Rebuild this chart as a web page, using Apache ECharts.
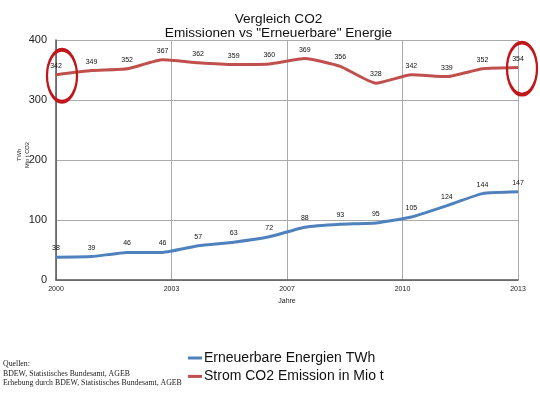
<!DOCTYPE html>
<html>
<head>
<meta charset="utf-8">
<script src="https://cdn.jsdelivr.net/npm/echarts@6/dist/echarts.min.js"></script>
<style>
html,body{margin:0;padding:0;background:#fff;}
#c{width:540px;height:396px;}
</style>
</head>
<body>
<div id="c"></div>
<script>
const years = [2000,2001,2002,2003,2004,2005,2006,2007,2008,2009,2010,2011,2012,2013];
const erneuerbare = [38,39,46,46,57,63,72,88,93,95,105,124,144,147];
const co2 = [342,349,352,367,362,359,360,369,356,328,342,339,352,354];
const baseYear = 2000;
const yTicks = [0,100,200,300,400];
const seriesNames = ['Erneuerbare Energien TWh','Strom CO2 Emission in Mio t'];
const titleLines = ['Vergleich CO2','Emissionen vs "Erneuerbare" Energie'];
const yNameLines = ['TWh','Mio t CO2'];
const sourceLines = ['Quellen:','BDEW, Statistisches Bundesamt, AGEB','Erhebung durch BDEW, Statistisches Bundesamt, AGEB'];

const FONT = '"Liberation Sans", Arial, Helvetica, sans-serif';
const lastIdx = years.length - 1;
const toPts = arr => arr.map((v,i)=>[years[i]-baseYear, v]);

const chart = echarts.init(document.getElementById('c'), null, {renderer:'canvas'});
chart.setOption({
  backgroundColor:'#fff',
  animation:false,
  textStyle:{fontFamily:FONT},
  title:{
    text: titleLines.join('\n'),
    left: 273.5, top: 6.5, textAlign:'center',
    textStyle:{fontFamily:FONT, fontSize:13.6, fontWeight:'normal', color:'#111', lineHeight:14.5}
  },
  grid:{left:56, right:22, top:40, bottom:116, containLabel:false, outerBoundsMode:'none'},
  xAxis:{
    type:'value', min:0, max:years[lastIdx]-baseYear, interval:(years[lastIdx]-baseYear)/4,
    name:'Jahre', nameLocation:'middle', nameGap:18,
    nameTextStyle:{fontFamily:FONT, fontSize:7, color:'#222'},
    axisLine:{show:true, lineStyle:{color:'#555', width:1.5}},
    axisTick:{show:false},
    axisLabel:{fontFamily:FONT, fontSize:7, color:'#222', margin:6,
      formatter: v => String(Math.round(baseYear + v))},
    splitLine:{show:true, lineStyle:{color:'#aaa', width:1}}
  },
  yAxis:{
    type:'value', min:yTicks[0], max:yTicks[yTicks.length-1], interval:yTicks[1]-yTicks[0],
    axisLine:{show:true, lineStyle:{color:'#555', width:1.5}},
    axisTick:{show:false},
    axisLabel:{fontFamily:FONT, fontSize:11, color:'#222', margin:9},
    splitLine:{show:true, lineStyle:{color:'#aaa', width:1}}
  },
  legend:{
    orient:'vertical', left:183, top:345, itemWidth:14, itemHeight:3, itemGap:2.4,
    icon:'rect',
    data: seriesNames,
    textStyle:{fontFamily:FONT, fontSize:14, color:'#111', lineHeight:16, padding:[0,0,0,-3]}
  },
  series:[
    {
      name:seriesNames[0], type:'line', data:toPts(erneuerbare), smooth:0.15,
      showSymbol:true, symbol:'circle', symbolSize:1,
      lineStyle:{color:'#4f81bd', width:3}, itemStyle:{color:'#4f81bd'},
      label:{show:true, position:'top', distance:5, fontFamily:FONT, fontSize:7, color:'#111',
        formatter:p=>p.value[1]}
    },
    {
      name:seriesNames[1], type:'line', data:toPts(co2), smooth:0.15,
      showSymbol:true, symbol:'circle', symbolSize:1,
      lineStyle:{color:'#c0504d', width:3}, itemStyle:{color:'#c0504d'},
      label:{show:true, position:'top', distance:5, fontFamily:FONT, fontSize:7, color:'#111',
        formatter:p=>p.value[1]},
      markPoint:{
        symbol:'circle', symbolSize:[30,52], silent:true,
        label:{show:false},
        itemStyle:{color:'rgba(0,0,0,0)', borderColor:'#c0171d', borderWidth:3},
        data:[
          {coord:[years[0]-baseYear, co2[0]], symbolOffset:[6,1]},
          {coord:[years[lastIdx]-baseYear, co2[lastIdx]], symbolOffset:[4,1]}
        ]
      }
    }
  ],
  graphic:[
    {
      type:'text', x:23, y:155, rotation:Math.PI/2,
      style:{text: yNameLines.join('\n'), fontFamily:FONT, fontSize:5.8, lineHeight:8,
        fill:'#222', align:'center', verticalAlign:'middle'}
    },
    {
      type:'text', left:3, top:359.5,
      style:{text: sourceLines.join('\n'), fontFamily:'"Liberation Serif", "Times New Roman", serif',
        fontSize:7.8, lineHeight:9.4, fill:'#222'}
    }
  ]
});
</script>
</body>
</html>
